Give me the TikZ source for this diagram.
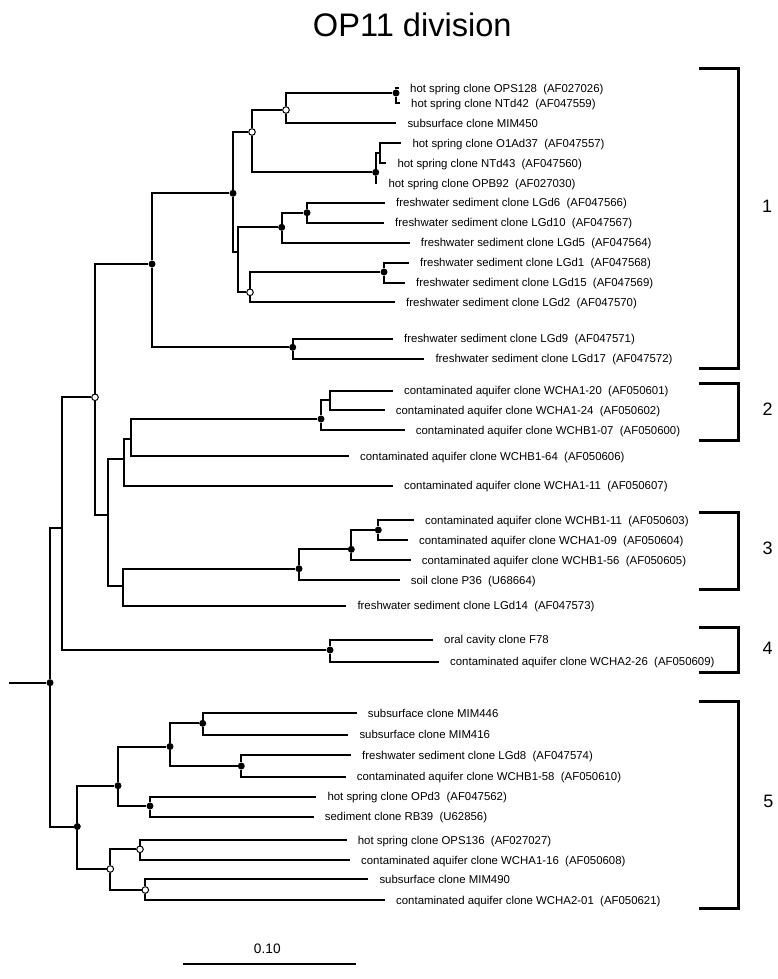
\documentclass[tikz,border=0pt]{standalone}
\usepackage{fontspec}
\setmainfont{Liberation Sans}
\usetikzlibrary{positioning}
\newcommand{\acc}[1]{\ \ (#1)}
\newcommand{\leaffont}{\fontsize{11.4pt}{13pt}\selectfont}

\begin{document}
\begin{tikzpicture}[x=1pt, y=-1pt,
    br/.style={line width=2pt},
    fd/.style={circle, fill=black, inner sep=0pt, minimum size=7pt},
    od/.style={circle, draw=black, fill=white, line width=1pt, inner sep=0pt, minimum size=6.6pt},
    lf/.style={anchor=west, inner xsep=11pt, inner ysep=0pt, text height=8.2pt, text depth=0pt,
      font=\leaffont},
    brk/.style={line width=3pt},
    cl/.style={font=\fontsize{18}{20}\selectfont}
  ]
  \useasboundingbox (0,0) rectangle (778,979);
  \node[anchor=base, font=\fontsize{32.6}{36}\selectfont] (title) at (412.3,37) {OP11 division};

  % inner nodes
  \coordinate (rt) at (9.3,682.7);
  \node[fd] (r0) at (50,682.7) {};
  \coordinate (A) at (62.3,528.3);
  \node[fd] (B) at (77.3,826.5) {};
  \node[od] (C) at (95,397.3) {};
  \node[fd] (D) at (330,650) {};
  \node[fd] (C1) at (152,264) {};
  \coordinate (C2) at (107.7,515);
  \node[fd] (C11) at (233,193.3) {};
  \node[fd] (C12) at (292.7,347.3) {};
  \node[od] (C111) at (252,132) {};
  \coordinate (C112) at (237.7,252);
  \node[od] (C1111) at (286,110) {};
  \node[fd] (Cx) at (396,93) {};
  \node[fd] (C1112) at (375.7,172.3) {};
  \coordinate (Cy) at (380,153);
  \node[fd] (E1) at (281.7,227.3) {};
  \node[od] (E2) at (250,292.3) {};
  \node[fd] (E11) at (307,212.7) {};
  \node[fd] (E21) at (384,272) {};
  \coordinate (F1) at (124.3,458.7);
  \coordinate (F2) at (123,585.7);
  \coordinate (F11) at (131.3,438.7);
  \node[fd] (F111) at (321,419) {};
  \coordinate (F1111) at (330,400);
  \node[fd] (G1) at (299,568.7) {};
  \node[fd] (G11) at (351.3,549.3) {};
  \node[fd] (G111) at (378.3,530) {};
  \node[fd] (H1) at (118,785.7) {};
  \node[od] (H2) at (110.3,869) {};
  \node[fd] (H11) at (170,746.5) {};
  \node[fd] (H12) at (150,806) {};
  \node[fd] (H111) at (202.7,723.3) {};
  \node[fd] (H112) at (241.3,766) {};
  \node[od] (H21) at (140,849.3) {};
  \node[od] (H22) at (145.3,890) {};

  % leaves
  \node[lf] (ops128) at (399,88.3) {hot spring clone OPS128\acc{AF027026}};
  \node[lf] (ntd42) at (400,103.3) {hot spring clone NTd42\acc{AF047559}};
  \node[lf] (mim450) at (396.3,123.3) {subsurface clone MIM450};
  \node[lf] (o1ad37) at (401.3,143.3) {hot spring clone O1Ad37\acc{AF047557}};
  \node[lf] (ntd43) at (386.3,163.3) {hot spring clone NTd43\acc{AF047560}};
  \node[lf] (opb92) at (377.3,183.3) {hot spring clone OPB92\acc{AF027030}};
  \node[lf] (lgd6) at (385,202.7) {freshwater sediment clone LGd6\acc{AF047566}};
  \node[lf] (lgd10) at (384,222.7) {freshwater sediment clone LGd10\acc{AF047567}};
  \node[lf] (lgd5) at (409.7,242.7) {freshwater sediment clone LGd5\acc{AF047564}};
  \node[lf] (lgd1) at (409,262.7) {freshwater sediment clone LGd1\acc{AF047568}};
  \node[lf] (lgd15) at (405,282.7) {freshwater sediment clone LGd15\acc{AF047569}};
  \node[lf] (lgd2) at (395,302.3) {freshwater sediment clone LGd2\acc{AF047570}};
  \node[lf] (lgd9) at (393,338.7) {freshwater sediment clone LGd9\acc{AF047571}};
  \node[lf] (lgd17) at (424.3,358.7) {freshwater sediment clone LGd17\acc{AF047572}};
  \node[lf] (a120) at (393,390.7) {contaminated aquifer clone WCHA1-20\acc{AF050601}};
  \node[lf] (a124) at (384.7,410) {contaminated aquifer clone WCHA1-24\acc{AF050602}};
  \node[lf] (b107) at (404.7,430) {contaminated aquifer clone WCHB1-07\acc{AF050600}};
  \node[lf] (b164) at (349,456) {contaminated aquifer clone WCHB1-64\acc{AF050606}};
  \node[lf] (a111) at (393,485.5) {contaminated aquifer clone WCHA1-11\acc{AF050607}};
  \node[lf] (b111) at (414,520) {contaminated aquifer clone WCHB1-11\acc{AF050603}};
  \node[lf] (a109) at (408,540) {contaminated aquifer clone WCHA1-09\acc{AF050604}};
  \node[lf] (b156) at (410.7,560) {contaminated aquifer clone WCHB1-56\acc{AF050605}};
  \node[lf] (p36) at (399.7,580) {soil clone P36\acc{U68664}};
  \node[lf] (lgd14) at (346.3,605.5) {freshwater sediment clone LGd14\acc{AF047573}};
  \node[lf] (f78) at (433,639.5) {oral cavity clone F78};
  \node[lf] (a226) at (439,661.5) {contaminated aquifer clone WCHA2-26\acc{AF050609}};
  \node[lf] (mim446) at (356.7,713) {subsurface clone MIM446};
  \node[lf] (mim416) at (348.3,734.5) {subsurface clone MIM416};
  \node[lf] (lgd8) at (351,755) {freshwater sediment clone LGd8\acc{AF047574}};
  \node[lf] (b158) at (345.7,776.7) {contaminated aquifer clone WCHB1-58\acc{AF050610}};
  \node[lf] (opd3) at (316.3,796.7) {hot spring clone OPd3\acc{AF047562}};
  \node[lf] (rb39) at (313.7,816.7) {sediment clone RB39\acc{U62856}};
  \node[lf] (ops136) at (346.7,840) {hot spring clone OPS136\acc{AF027027}};
  \node[lf] (a116) at (350,860) {contaminated aquifer clone WCHA1-16\acc{AF050608}};
  \node[lf] (mim490) at (368.3,879.3) {subsurface clone MIM490};
  \node[lf] (a201) at (385,900) {contaminated aquifer clone WCHA2-01\acc{AF050621}};

  % branches
  \draw[br] (rt) -- (r0);
  \draw[br] (r0) |- (A) (r0) |- (B);
  \draw[br] (A) |- (C) (A) |- (D);
  \draw[br] (C) |- (C1) (C) |- (C2);
  \draw[br] (C1) |- (C11) (C1) |- (C12);
  \draw[br] (C11) |- (C111) (C11) |- (C112);
  \draw[br] (C111) |- (C1111) (C111) |- (C1112);
  \draw[br] (C1111) |- (Cx) (C1111) |- (mim450);
  \draw[br] (Cx) |- (ops128) (Cx) |- (ntd42);
  \draw[br] (C1112) |- (Cy) (C1112) |- (opb92);
  \draw[br] (Cy) |- (o1ad37) (Cy) |- (ntd43);
  \draw[br] (C112) |- (E1) (C112) |- (E2);
  \draw[br] (E1) |- (E11) (E1) |- (lgd5);
  \draw[br] (E11) |- (lgd6) (E11) |- (lgd10);
  \draw[br] (E2) |- (E21) (E2) |- (lgd2);
  \draw[br] (E21) |- (lgd1) (E21) |- (lgd15);
  \draw[br] (C12) |- (lgd9) (C12) |- (lgd17);
  \draw[br] (C2) |- (F1) (C2) |- (F2);
  \draw[br] (F1) |- (F11) (F1) |- (a111);
  \draw[br] (F11) |- (F111) (F11) |- (b164);
  \draw[br] (F111) |- (F1111) (F111) |- (b107);
  \draw[br] (F1111) |- (a120) (F1111) |- (a124);
  \draw[br] (F2) |- (G1) (F2) |- (lgd14);
  \draw[br] (G1) |- (G11) (G1) |- (p36);
  \draw[br] (G11) |- (G111) (G11) |- (b156);
  \draw[br] (G111) |- (b111) (G111) |- (a109);
  \draw[br] (D) |- (f78) (D) |- (a226);
  \draw[br] (B) |- (H1) (B) |- (H2);
  \draw[br] (H1) |- (H11) (H1) |- (H12);
  \draw[br] (H11) |- (H111) (H11) |- (H112);
  \draw[br] (H111) |- (mim446) (H111) |- (mim416);
  \draw[br] (H112) |- (lgd8) (H112) |- (b158);
  \draw[br] (H12) |- (opd3) (H12) |- (rb39);
  \draw[br] (H2) |- (H21) (H2) |- (H22);
  \draw[br] (H21) |- (ops136) (H21) |- (a116);
  \draw[br] (H22) |- (mim490) (H22) |- (a201);

  % clades
  \draw[brk] (699,68.3) -| (738.3,368.3) -- (699,368.3);
  \draw[brk] (699,383.3) -| (738.3,440) -- (699,440);
  \draw[brk] (699,512) -| (738.3,589.3) -- (699,589.3);
  \draw[brk] (699,627.3) -| (738.3,672) -- (699,672);
  \draw[brk] (699,701) -| (738.3,908.3) -- (699,908.3);
  \node[cl] (k1) at (767,206.7) {1};
  \node[cl] (k2) at (767.7,409) {2};
  \node[cl] (k3) at (767.7,548.3) {3};
  \node[cl] (k4) at (767.7,648.3) {4};
  \node[cl] (k5) at (768.3,801.7) {5};

  % scale
  \coordinate (s0) at (183.3,964);
  \coordinate (s1) at (355.7,964);
  \draw[line width=2.2pt] (s0) -- (s1);
  \node[anchor=base, font=\fontsize{13.7}{15}\selectfont] (sl) at (267.3,953.3) {0.10};
\end{tikzpicture}
\end{document}
